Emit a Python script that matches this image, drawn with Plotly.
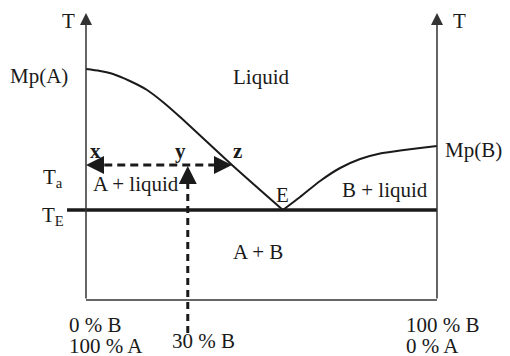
import plotly.graph_objects as go

# composition (% B) and temperature
comp_liq_a = [0, 4.0, 7.7, 12.5, 17.4, 21.9, 26.8, 41.6, 56.1]
temp_liq_a = [231, 229, 226, 219, 210, 198, 183, 135, 90]
comp_liq_b = [56.1, 61.0, 66.7, 72.4, 78.1, 83.8, 89.5, 95.2, 100]
temp_liq_b = [90, 103, 119, 132, 141, 146.5, 149.5, 152, 154]

t_eutectic = 90
t_a = 135
comp_alloy = 29      # the "30 % B" alloy
comp_z = 41.6        # liquid composition at T_a
t_top = 287
t_bottom = -33

FONT = "Liberation Serif, Times New Roman, serif"
BLACK = "#1a1a1a"

fig = go.Figure()

# box: bottom edge
fig.add_trace(go.Scatter(x=[0, 100], y=[0, 0], mode="lines",
                         line=dict(color="#333", width=1.5), hoverinfo="skip"))
# eutectic line
fig.add_trace(go.Scatter(x=[-5.4, 100], y=[t_eutectic, t_eutectic], mode="lines",
                         line=dict(color=BLACK, width=3.5), hoverinfo="skip"))
# liquidus curves
fig.add_trace(go.Scatter(x=comp_liq_a, y=temp_liq_a, mode="lines",
                         line=dict(color=BLACK, width=2, shape="spline", smoothing=0.8),
                         hoverinfo="skip"))
fig.add_trace(go.Scatter(x=comp_liq_b, y=temp_liq_b, mode="lines",
                         line=dict(color=BLACK, width=2, shape="spline", smoothing=0.6),
                         hoverinfo="skip"))
# tie line at T_a and alloy line
fig.add_trace(go.Scatter(x=[1.5, comp_z - 1.5], y=[t_a, t_a], mode="lines",
                         line=dict(color=BLACK, width=3, dash="8px,5px"), hoverinfo="skip"))
fig.add_trace(go.Scatter(x=[comp_alloy, comp_alloy], y=[t_bottom, t_a - 3], mode="lines",
                         line=dict(color=BLACK, width=3, dash="7px,5px"), hoverinfo="skip"))

# temperature axes with arrows
for cx in [0, 100]:
    fig.add_annotation(x=cx, y=t_top, ax=cx, ay=0, xref="x", yref="y",
                       axref="x", ayref="y", showarrow=True, arrowhead=2,
                       arrowsize=1.6, arrowwidth=1.5, arrowcolor="#333", text="")

# arrowheads for the dashed arrows
heads = [(0, t_a, 10, 0), (comp_z, t_a, -10, 0), (comp_alloy, t_a - 1, 0, 10)]
for hx, hy, dx, dy in heads:
    fig.add_annotation(x=hx, y=hy, ax=dx, ay=dy, xref="x", yref="y",
                       showarrow=True, arrowhead=2, arrowsize=1.2, arrowwidth=3,
                       arrowcolor=BLACK, text="")

labels = [
    ("T", -5, 279),
    ("T", 106.5, 279),
    ("Mp(A)", -13.5, 224),
    ("Mp(B)", 110.5, 150),
    ("Liquid", 50, 223),
    ("T<sub>a</sub>", -9.5, 122),
    ("T<sub>E</sub>", -9.5, 84),
    ("A + liquid", 14.3, 116),
    ("B + liquid", 85.2, 110),
    ("E", 56.1, 105),
    ("A + B", 49.1, 48),
]
for txt, lx, ly in labels:
    fig.add_annotation(x=lx, y=ly, text=txt, showarrow=False,
                       font=dict(family=FONT, size=21, color=BLACK))

for txt, lx in [("x", 2.6), ("y", 26.8), ("z", 43.3)]:
    fig.add_annotation(x=lx, y=149, text="<b>" + txt + "</b>", showarrow=False,
                       font=dict(family=FONT, size=21, color=BLACK))

bottom = [
    ("0 % B", -5.4, -25),
    ("100 % A", -5.4, -46),
    ("30 % B", 24.0, -41),
    ("100 % B", 90.6, -25),
    ("0 % A", 90.6, -46),
]
for txt, lx, ly in bottom:
    fig.add_annotation(x=lx, y=ly, text=txt, showarrow=False, xanchor="left",
                       font=dict(family=FONT, size=21, color=BLACK))

fig.update_layout(
    width=510, height=356,
    margin=dict(l=0, r=0, t=0, b=0),
    paper_bgcolor="white", plot_bgcolor="white",
    showlegend=False,
    xaxis=dict(range=[-24.5, 120.8], visible=False, fixedrange=True),
    yaxis=dict(range=[-56, 300], visible=False, fixedrange=True),
)

# drop the page's default body margin so the figure sits at the window corner
fig.write_html("out.html", config={"displayModeBar": False},
               post_script="document.body.style.margin='0px';")
